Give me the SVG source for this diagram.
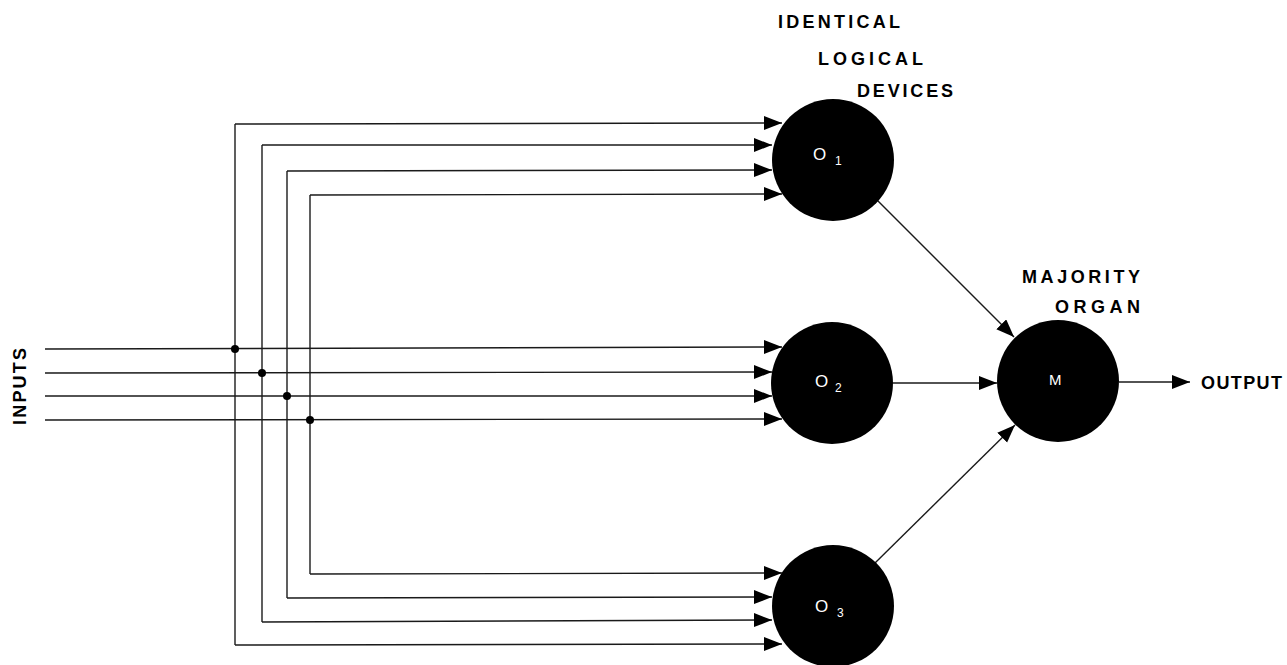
<svg xmlns="http://www.w3.org/2000/svg" width="1287" height="665" viewBox="0 0 1287 665">
<style>
.w{stroke:#1a1a1a;stroke-width:1.4;fill:none}
.a{marker-end:url(#ah)}
.node{fill:#000}
.lbl{font-family:"Liberation Sans",Arial,sans-serif;font-weight:bold;font-size:18px;fill:#000}
.in{font-family:"Liberation Sans",Arial,sans-serif;font-size:17px;fill:#fff}
.sub{font-family:"Liberation Sans",Arial,sans-serif;font-size:12px;fill:#fff}
</style>
<defs>
<marker id="ah" markerUnits="userSpaceOnUse" markerWidth="19" markerHeight="15" refX="18" refY="7" orient="auto">
<path d="M0,0 L18,7 L0,14 z" fill="#000"/>
</marker>
</defs>
<rect width="1287" height="665" fill="#fff"/>
<g id="connectors">
<line class="w a" x1="45" y1="349" x2="782" y2="347"/>
<line class="w a" x1="45" y1="373" x2="772" y2="372"/>
<line class="w a" x1="45" y1="396" x2="772" y2="396"/>
<line class="w a" x1="45" y1="420" x2="782" y2="419"/>
<line class="w" x1="235" y1="124" x2="235" y2="645"/>
<line class="w" x1="262" y1="145" x2="262" y2="622"/>
<line class="w" x1="287" y1="171" x2="287" y2="598"/>
<line class="w" x1="310" y1="195" x2="310" y2="574"/>
<line class="w a" x1="235" y1="124" x2="782" y2="123"/>
<line class="w a" x1="262" y1="145" x2="772" y2="145"/>
<line class="w a" x1="287" y1="171" x2="772" y2="170"/>
<line class="w a" x1="310" y1="195" x2="782" y2="194"/>
<line class="w a" x1="310" y1="574" x2="782" y2="573"/>
<line class="w a" x1="287" y1="598" x2="772" y2="597"/>
<line class="w a" x1="262" y1="622" x2="772" y2="620"/>
<line class="w a" x1="235" y1="645" x2="782" y2="644"/>
<circle cx="235" cy="349" r="4" fill="#000"/>
<circle cx="262" cy="373" r="4" fill="#000"/>
<circle cx="287" cy="396" r="4" fill="#000"/>
<circle cx="310" cy="420" r="4" fill="#000"/>
<line class="w a" x1="877" y1="200" x2="1014" y2="337"/>
<line class="w a" x1="893" y1="383" x2="997" y2="383"/>
<line class="w a" x1="875" y1="563" x2="1015" y2="425"/>
<line class="w a" x1="1119" y1="382" x2="1190" y2="382"/>
</g>
<g id="O1">
<circle class="node" cx="833" cy="160" r="61"/>
<text class="in" x="813" y="160">O</text>
<text class="sub" x="835" y="165">1</text>
</g>
<g id="O2">
<circle class="node" cx="832" cy="383" r="61"/>
<text class="in" x="815" y="387">O</text>
<text class="sub" x="835" y="392">2</text>
</g>
<g id="O3">
<circle class="node" cx="833" cy="606" r="61"/>
<text class="in" x="815" y="612">O</text>
<text class="sub" x="837" y="617">3</text>
</g>
<g id="M">
<circle class="node" cx="1058" cy="381" r="61"/>
<text class="in" x="1049" y="385" style="font-size:15px">M</text>
</g>
<g id="labels">
<text class="lbl" x="778" y="28" textLength="122" lengthAdjust="spacing">IDENTICAL</text>
<text class="lbl" x="818" y="65" textLength="105" lengthAdjust="spacing">LOGICAL</text>
<text class="lbl" x="857" y="97" textLength="96" lengthAdjust="spacing">DEVICES</text>
<text class="lbl" x="1022" y="283" textLength="118" lengthAdjust="spacing">MAJORITY</text>
<text class="lbl" x="1055" y="313" textLength="85" lengthAdjust="spacing">ORGAN</text>
<text class="lbl" x="1201" y="389" textLength="81" lengthAdjust="spacing">OUTPUT</text>
<text class="lbl" transform="translate(26,425) rotate(-90)" x="0" y="0" textLength="77" lengthAdjust="spacing">INPUTS</text>
</g>
</svg>
